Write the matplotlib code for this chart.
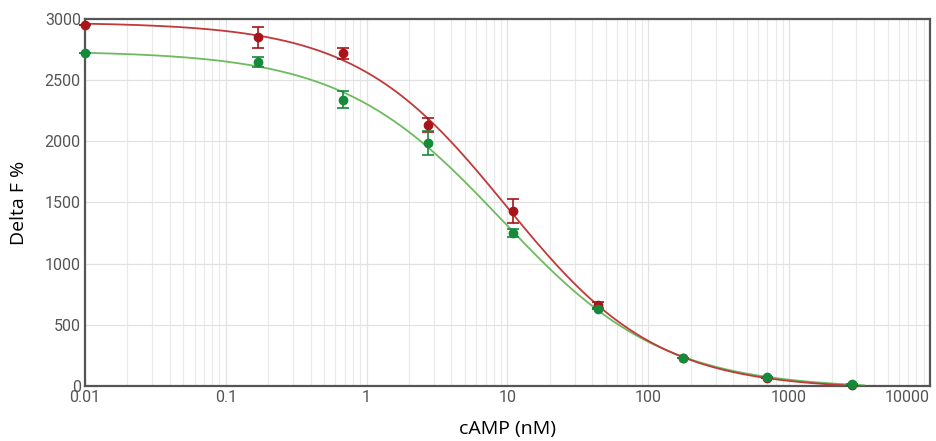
import matplotlib
matplotlib.use("Agg")
import matplotlib.pyplot as plt
import numpy as np

# cAMP concentrations (nM); the zero-cAMP well is plotted at 0.01
conc = [0.01, 0.17, 0.68, 2.73, 10.9, 43.75, 175, 700, 2800]
# Delta F %
red_y = [2950, 2850, 2720, 2135, 1430, 660, 225, 68, 5]
red_err = [0, 85, 45, 55, 100, 25, 0, 0, 0]
green_y = [2720, 2650, 2340, 1985, 1250, 630, 229, 74, 16]
green_err = [0, 40, 70, 100, 30, 0, 0, 0, 0]
xtick_vals = [0.01, 0.1, 1, 10, 100, 1000, 10000]
xtick_labels = ['0.01', '0.1', '1', '10', '100', '1000', '10000']

def fit_4pl(x, y):
    # grid over IC50 and hill slope, top/bottom solved linearly
    x = np.asarray(x, float)
    y = np.asarray(y, float)
    best = None
    for lc in np.linspace(0, 2, 201):
        for h in np.linspace(0.5, 1.5, 101):
            s = 1.0 / (1.0 + (x / 10**lc)**h)
            A = np.vstack([1 - s, s]).T
            coef, *_ = np.linalg.lstsq(A, y, rcond=None)
            r = np.sum((A @ coef - y)**2)
            if best is None or r < best[0]:
                best = (r, coef[0], coef[1], 10**lc, h)
    return best[1:]

def curve(x, bottom, top, ic50, h):
    return bottom + (top - bottom) / (1.0 + (x / ic50)**h)

fig = plt.figure(figsize=(9.36, 4.41), dpi=100)
ax = fig.add_axes([0.0908, 0.1247, 0.9028, 0.8323])

xs = np.logspace(-2, np.log10(3400), 400)
series = [(green_y, green_err, '#6dbb5f', '#168a3a'),
          (red_y, red_err, '#c0393b', '#a81419')]
for y, err, line_c, mark_c in series:
    p = fit_4pl(conc, y)
    ax.plot(xs, curve(xs, *p), color=line_c, lw=1.3, zorder=3)
# red markers first so green sits on top where they overlap
for y, err, line_c, mark_c in series[::-1]:
    ax.errorbar(conc, y, yerr=err, fmt='o', color=mark_c, ms=6, capsize=4,
                elinewidth=1.2, capthick=1.2, zorder=4, clip_on=False)

ax.set_xscale('log')
ax.set_xlim(0.01, 10000)
ax.set_ylim(0, 3000)
ax.set_yticks(np.arange(0, 3001, 500))
ax.set_xticks(xtick_vals)
ax.set_xticklabels(xtick_labels)
ax.grid(True, which='major', color='#e2e2e2', lw=0.9)
ax.grid(True, which='minor', axis='x', color='#e9e9e9', lw=0.8)
ax.tick_params(which='both', length=0, labelsize=11.5, labelcolor='#555555', pad=3)
for lab in ax.get_xticklabels() + ax.get_yticklabels():
    lab.set_family('Roboto')
ax.get_xticklabels()[-1].set_horizontalalignment('right')
for s in ax.spines.values():
    s.set_color('#555555')
    s.set_linewidth(1.6)
ax.set_xlabel('cAMP (nM)', fontsize=14, family='Open Sans', labelpad=11)
ax.set_ylabel('Delta F %', fontsize=14, family='Open Sans', labelpad=12)

fig.savefig('out.png', dpi=100)
